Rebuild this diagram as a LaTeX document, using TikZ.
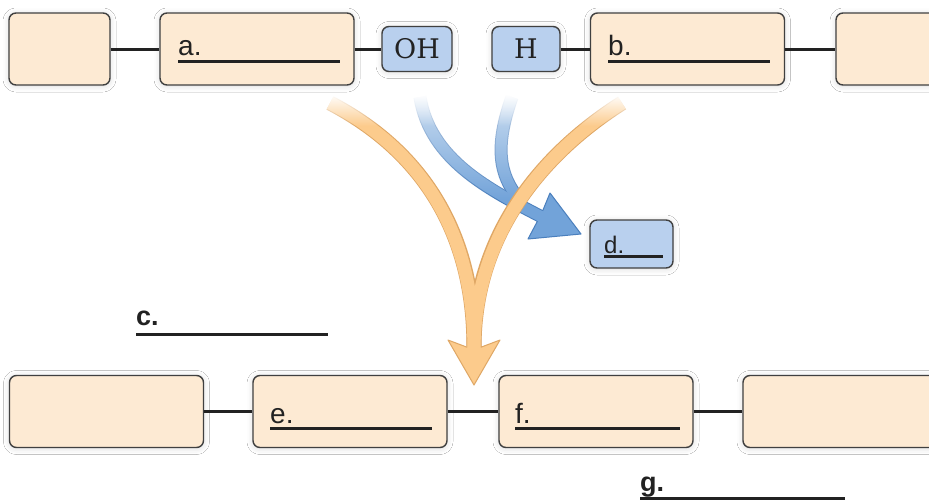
\documentclass[tikz,border=0pt]{standalone}
\usepackage{fontspec}
\setmainfont{Liberation Sans}
\newfontfamily\ionfont{DejaVu Serif}
\usetikzlibrary{fadings,shadows.blur}

\definecolor{unitfill}{HTML}{FDEAD3}
\definecolor{ionfill}{HTML}{B9D0EE}
\definecolor{edge}{HTML}{404040}
\definecolor{inkdark}{HTML}{222222}
\definecolor{orangefill}{HTML}{FCCB8C}
\definecolor{orangeline}{HTML}{DFA765}
\definecolor{bluefill}{HTML}{72A3D9}
\definecolor{blueline}{HTML}{4A7FBD}

% white covers that fade the arrow tails
\tikzfading[name=cover fade, top color=transparent!0, bottom color=transparent!100]
\tikzfading[name=lighten fade, top color=transparent!35, bottom color=transparent!100]

\tikzset{
	unit/.style={draw=edge, line width=1.4pt, fill=unitfill, rounded corners=7pt,
		minimum height=72pt, inner sep=0pt,
		blur shadow={shadow blur radius=6pt, shadow xshift=0pt, shadow yshift=-1pt, shadow opacity=15}},
	wideunit/.style={unit, minimum width=194pt},
	shortunit/.style={unit, minimum width=101pt},
	ionbox/.style={unit, fill=ionfill, minimum width=70pt, minimum height=45pt,
		text=inkdark, font=\ionfont\fontsize{27}{30}\selectfont},
	bondline/.style={line width=3pt, draw=inkdark},
	answerline/.style={line width=3pt, draw=inkdark},
	letter/.style={anchor=base west, inner sep=0pt, text=inkdark, font=\fontsize{28}{32}\selectfont},
}

\begin{document}
\begin{tikzpicture}[x=1pt, y=-1pt]

	\clip (0,0) rectangle (929,501);
	\fill[white] (0,0) rectangle (929,501);

	% top chain
	\node[shortunit] (top1) at (59.5,49) {};
	\node[wideunit]  (topa) at (257,49) {};
	\node[ionbox]    (oh)   at (417,49) {OH};
	\node[ionbox, minimum width=68pt] (h) at (526,49) {H};
	\node[wideunit]  (topb) at (687.5,49) {};
	\node[shortunit] (top2) at (886.5,49) {};

	\draw[bondline] (top1) -- (topa);
	\draw[bondline] (topa) -- (oh);
	\draw[bondline] (h) -- (topb);
	\draw[bondline] (topb) -- (top2);

	% bottom chain
	\node[wideunit] (bot1) at (106.5,411.5) {};
	\node[wideunit] (bote) at (350,411.5) {};
	\node[wideunit] (botf) at (596,411.5) {};
	\node[wideunit] (bot2) at (840,411.5) {};

	\draw[bondline] (bot1) -- (bote);
	\draw[bondline] (bote) -- (botf);
	\draw[bondline] (botf) -- (bot2);

	% water
	\node[ionbox, minimum width=83pt, minimum height=48pt] (water) at (631.5,244) {};

	% blue arrow
	\draw[blueline, line width=13pt]
		(420,97) .. controls (430,160) and (490,190) .. (540,216);
	\draw[blueline, line width=13pt]
		(512,97) .. controls (495,145) and (498,175) .. (520,200);
	\filldraw[fill=bluefill, draw=blueline, line width=1pt, line join=round]
		(550,193) -- (581,234) -- (528,239) -- (537,222) -- (543,210) -- cycle;
	\draw[bluefill, line width=11pt, shorten >=-4pt]
		(420,97) .. controls (430,160) and (490,190) .. (540,216);
	\draw[bluefill, line width=11pt]
		(512,97) .. controls (495,145) and (498,175) .. (520,200);
	\fill[white, path fading=lighten fade] (400,94) rectangle (545,200);

	% orange arrow
	\draw[orangeline, line width=15pt]
		(330,103) .. controls (420,150) and (474,230) .. (474,347);
	\draw[orangeline, line width=15pt]
		(622,103) .. controls (548,150) and (474,230) .. (474,347);
	\filldraw[fill=orangefill, draw=orangeline, line width=1pt, line join=round]
		(448,340) -- (466.5,347) -- (481.5,347) -- (500,340) -- (474,385) -- cycle;
	\draw[orangefill, line width=13pt, shorten >=-4pt]
		(330,103) .. controls (420,150) and (474,230) .. (474,347);
	\draw[orangefill, line width=13pt, shorten >=-4pt]
		(622,103) .. controls (548,150) and (474,230) .. (474,347);

	% fade the tails
	\fill[white, path fading=cover fade] (300,94) rectangle (660,126);

	% blanks
	\node[letter] (la) at (178,55) {a.};
	\draw[answerline] ([yshift=-6pt]la.base west) -- ++(162,0);
	\node[letter] (lb) at (608,55) {b.};
	\draw[answerline] ([yshift=-6pt]lb.base west) -- ++(162,0);
	\node[letter, font=\bfseries\fontsize{27}{32}\selectfont] (lc) at (136,325) {c.};
	\draw[answerline] ([yshift=-9pt]lc.base west) -- ++(192,0);
	\node[letter, font=\fontsize{24}{28}\selectfont] (ld) at (604,253) {d.};
	\draw[answerline] ([yshift=-3pt]ld.base west) -- ++(59,0);
	\node[letter] (le) at (270,423) {e.};
	\draw[answerline] ([yshift=-5pt]le.base west) -- ++(162,0);
	\node[letter] (lf) at (515,423) {f.};
	\draw[answerline] ([yshift=-5pt]lf.base west) -- ++(165,0);
	\node[letter, font=\bfseries\fontsize{27}{32}\selectfont] (lg) at (640,491) {g.};
	\draw[answerline] ([yshift=-7pt]lg.base west) -- ++(205,0);

\end{tikzpicture}
\end{document}
